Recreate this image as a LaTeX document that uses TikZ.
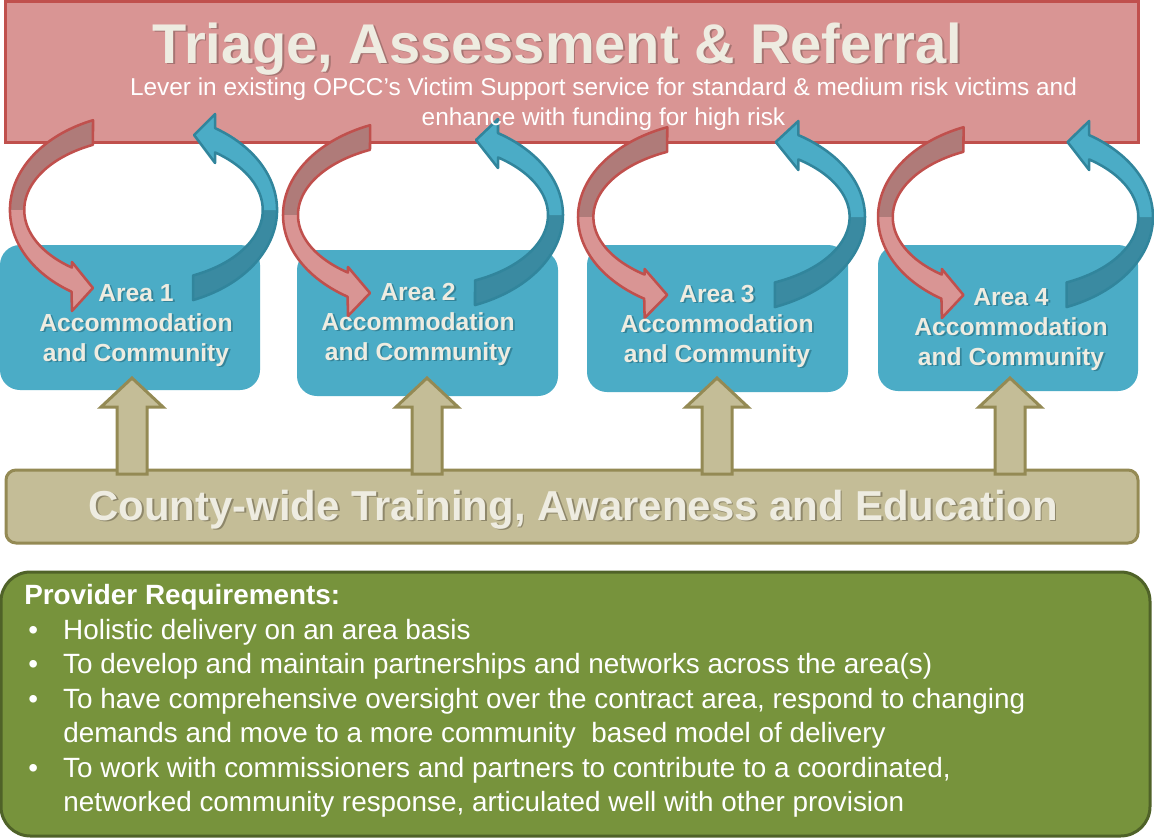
\documentclass[tikz,border=0pt]{standalone}
\usepackage{fontspec}
\setmainfont{Liberation Sans}

\definecolor{triagefill}{HTML}{D99594}
\definecolor{triageline}{HTML}{C0504D}
\definecolor{triagedark}{HTML}{AF7B79}
\definecolor{triageshadow}{HTML}{A67472}
\definecolor{areafill}{HTML}{4BACC6}
\definecolor{areadark}{HTML}{3A8AA1}
\definecolor{arealine}{HTML}{31859C}
\definecolor{areashadow}{HTML}{33849A}
\definecolor{trainfill}{HTML}{C4BD97}
\definecolor{trainline}{HTML}{948A54}
\definecolor{trainshadow}{HTML}{8E876A}
\definecolor{reqfill}{HTML}{77933C}
\definecolor{reqline}{HTML}{4F6228}
\definecolor{cream}{HTML}{EEECE1}

% text with a small drop shadow behind it
\newcommand{\shd}[2]{\makebox[0pt][l]{\kern1.4pt\raisebox{-1.4pt}{\textcolor{#1}{#2}}}#2}
\newcommand{\bul}{\makebox[29.25pt][l]{\hspace{3pt}\textbullet}}

\tikzset{
    heavy/.style={line width=2.25pt},
    ribbon/.style={line width=1.9pt, line join=round},
    arealabel/.style={font=\fontsize{18.5}{22.5}\selectfont\bfseries, text=cream, align=center, inner sep=0pt},
}

\begin{document}
\begin{tikzpicture}[x=0.75pt, y=-0.75pt]
    \useasboundingbox (0,0) rectangle (1154,839);
    \fill[white] (0,0) rectangle (1154,839);

    % triage band along the top
    \draw[heavy, triageline, fill=triagefill] (5,1) rectangle (1138,142);

    % the four areas
    \foreach \xa/\ya/\xb/\yb in {0/245/260/390, 297/250/558/396, 587/245/848/392, 878/245/1138/391}
        \fill[areafill, rounded corners=15pt] (\xa,\ya) rectangle (\xb,\yb);

    % referral loops: red goes down into the area, blue comes back up
    \foreach \cx/\cy/\sx in {143.5/210/0.954, 423/215/1, 721.5/217/1.025, 1015.5/217/0.982} {
        \begin{scope}[shift={(\cx,\cy)}, xscale=\sx, yscale=-1]
            \fill[triagedark] plot[variable=\t, domain=112.2:180, samples=30] ({140*cos(\t)},{97*sin(\t)})
                -- plot[variable=\t, domain=180:115.1, samples=30] ({125*cos(\t)},{72*sin(\t)}) -- cycle;
            \fill[triagefill] plot[variable=\t, domain=180:237.4, samples=30] ({140*cos(\t)},{97*sin(\t)})
                -- (-75,-101) -- (-53,-78) -- (-75,-52)
                -- plot[variable=\t, domain=233.1:180, samples=30] ({125*cos(\t)},{72*sin(\t)}) -- cycle;
            \draw[ribbon, triageline] plot[variable=\t, domain=112.2:237.4, samples=60] ({140*cos(\t)},{97*sin(\t)})
                -- (-75,-101) -- (-53,-78) -- (-75,-52)
                -- plot[variable=\t, domain=233.1:115.1, samples=60] ({125*cos(\t)},{72*sin(\t)}) -- cycle;

            \fill[areadark] plot[variable=\t, domain=-68.2:0, samples=30] ({140*cos(\t)},{97*sin(\t)})
                -- plot[variable=\t, domain=0:-65.4, samples=30] ({125*cos(\t)},{72*sin(\t)}) -- cycle;
            \fill[areafill] plot[variable=\t, domain=0:57.6, samples=30] ({140*cos(\t)},{97*sin(\t)})
                -- (75,96) -- (53,75) -- (75,47)
                -- plot[variable=\t, domain=53.1:0, samples=30] ({125*cos(\t)},{72*sin(\t)}) -- cycle;
            \draw[ribbon, arealine] plot[variable=\t, domain=-68.2:57.6, samples=60] ({140*cos(\t)},{97*sin(\t)})
                -- (75,96) -- (53,75) -- (75,47)
                -- plot[variable=\t, domain=53.1:-65.4, samples=60] ({125*cos(\t)},{72*sin(\t)}) -- cycle;
        \end{scope}
    }

    % training bar and the arrows up into each area
    \draw[heavy, trainline, fill=trainfill, rounded corners=7.5pt] (6,470) rectangle (1138,543);
    \foreach \ax in {132,427,717,1010}
        \draw[heavy, trainline, fill=trainfill, line join=miter]
            (\ax,378) -- (\ax+31,407) -- (\ax+15,407) -- (\ax+15,474)
            -- (\ax-15,474) -- (\ax-15,407) -- (\ax-31,407) -- cycle;

    % requirements panel
    \draw[heavy, reqline, fill=reqfill, rounded corners=22pt] (1,572) rectangle (1150,836);

    % texts (a multi-line node sits on the baseline of its last line)
    \node[font=\fontsize{42}{48}\selectfont\bfseries, text=cream, anchor=base, inner sep=0pt] (triage)
        at (557.5,63) {\shd{triageshadow}{Triage, Assessment \& Referral}};
    \node[font=\fontsize{18.3}{22}\selectfont, text=white, align=center, anchor=base, inner sep=0pt] (lever)
        at (603.5,125) {Lever in existing OPCC’s Victim Support service for standard \& medium risk victims and\\
        enhance with funding for high risk};

    \foreach \n/\lx/\ly in {1/136/361, 2/418/360, 3/717/362, 4/1011/365}
        \node[arealabel, anchor=base] (area\n) at (\lx,\ly)
            {\shd{areashadow}{Area \n}\\\shd{areashadow}{Accommodation}\\\shd{areashadow}{and Community}};

    \node[font=\fontsize{31.4}{36}\selectfont\bfseries, text=cream, anchor=base, inner sep=0pt] (training)
        at (573,520) {\shd{trainshadow}{County-wide Training, Awareness and Education}};

    \node[font=\fontsize{20.9}{25.9}\selectfont, text=white, align=left, anchor=north west, inner sep=0pt] (requirements)
        at (24,584) {\textbf{Provider Requirements:}\\
        \bul Holistic delivery on an area basis\\
        \bul To develop and maintain partnerships and networks across the area(s)\\
        \bul To have comprehensive oversight over the contract area, respond to changing\\
        \hspace*{29.25pt}demands and move to a more community\ \ based model of delivery\\
        \bul To work with commissioners and partners to contribute to a coordinated,\\
        \hspace*{29.25pt}networked community response, articulated well with other provision};
\end{tikzpicture}
\end{document}
